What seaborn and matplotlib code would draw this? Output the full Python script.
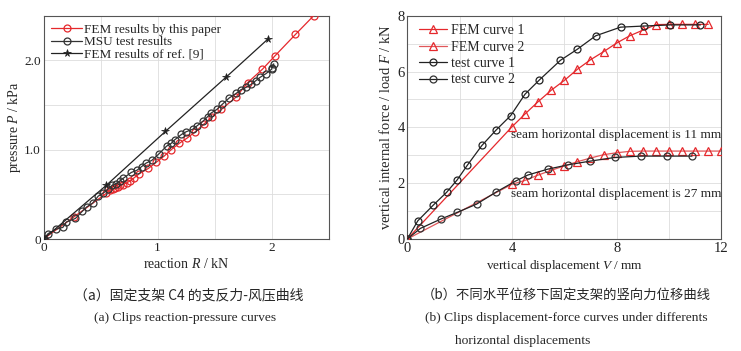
import numpy as np
import pandas as pd
import seaborn as sns
import matplotlib.pyplot as plt
from matplotlib.ticker import MultipleLocator, FuncFormatter

# (a) reaction R / kN vs pressure P / kPa
fem_r = [0, 0.27, 0.55, 0.58, 0.61, 0.63, 0.65, 0.67, 0.70, 0.73, 0.76, 0.79, 0.84, 0.92, 0.99,
         1.06, 1.12, 1.19, 1.26, 1.33, 1.41, 1.48, 1.56, 1.69, 1.79, 1.92, 2.03, 2.21, 2.37]
fem_p = [0, 0.25, 0.51, 0.55, 0.56, 0.57, 0.58, 0.60, 0.61, 0.63, 0.65, 0.68, 0.73, 0.79, 0.86,
         0.93, 1.00, 1.07, 1.13, 1.20, 1.29, 1.37, 1.45, 1.59, 1.75, 1.90, 2.05, 2.29, 2.50]
msu_r = [0, 0.04, 0.11, 0.17, 0.20, 0.28, 0.34, 0.38, 0.43, 0.48, 0.52, 0.57, 0.60, 0.64, 0.67,
         0.70, 0.77, 0.82, 0.86, 0.90, 0.95, 1.01, 1.08, 1.12, 1.15, 1.21, 1.25, 1.31, 1.35, 1.40,
         1.44, 1.47, 1.52, 1.57, 1.63, 1.69, 1.73, 1.78, 1.82, 1.86, 1.90, 1.95, 2.00, 2.02, 2.00]
msu_p = [0, 0.06, 0.11, 0.13, 0.19, 0.23, 0.31, 0.36, 0.40, 0.48, 0.51, 0.56, 0.60, 0.62, 0.65,
         0.68, 0.745, 0.77, 0.81, 0.85, 0.88, 0.95, 1.04, 1.07, 1.11, 1.17, 1.20, 1.23, 1.27, 1.32,
         1.37, 1.41, 1.45, 1.51, 1.58, 1.63, 1.67, 1.70, 1.73, 1.77, 1.81, 1.85, 1.90, 1.96, 1.92]
ref_r = [0, 0.55, 1.07, 1.60, 1.97]
ref_p = [0, 0.60, 1.205, 1.81, 2.24]

# (b) vertical displacement V / mm vs force F / kN
fem1_v = [0, 4.0, 4.5, 5.0, 5.5, 6.0, 6.5, 7.0, 7.5, 8.0, 8.5, 9.0, 9.5, 10.0, 10.5, 11.0, 11.5]
fem1_f = [0, 4.02, 4.48, 4.92, 5.33, 5.68, 6.08, 6.42, 6.71, 7.02, 7.28, 7.48, 7.68, 7.69, 7.69, 7.69, 7.69]
fem2_v = [0, 4.0, 4.5, 5.0, 5.5, 6.0, 6.5, 7.0, 7.5, 8.0, 8.5, 9.0, 9.5, 10.0, 10.5, 11.0, 11.5, 12.0]
fem2_f = [0, 1.96, 2.10, 2.29, 2.46, 2.62, 2.77, 2.90, 3.02, 3.09, 3.14, 3.15, 3.15, 3.15, 3.15, 3.15, 3.15, 3.15]
test1_v = [0, 0.4, 1.0, 1.5, 1.9, 2.3, 2.85, 3.4, 3.95, 4.5, 5.05, 5.85, 6.5, 7.2, 8.15, 9.05, 10.05, 11.2]
test1_f = [0, 0.65, 1.22, 1.67, 2.11, 2.65, 3.35, 3.91, 4.42, 5.19, 5.70, 6.40, 6.80, 7.28, 7.59, 7.63, 7.67, 7.67]
test2_v = [0, 0.5, 1.27, 1.9, 2.65, 3.39, 4.15, 4.6, 5.36, 6.16, 6.99, 7.92, 8.92, 9.92, 10.88]
test2_f = [0, 0.38, 0.71, 0.95, 1.25, 1.68, 2.08, 2.29, 2.50, 2.66, 2.79, 2.92, 2.97, 2.97, 2.97]

sns.set_theme(style='white')
plt.rcParams['font.family'] = ['Liberation Serif', 'Noto Sans CJK SC', 'DejaVu Sans']
plt.rcParams['mathtext.fontset'] = 'custom'
plt.rcParams['mathtext.rm'] = 'Liberation Serif'
plt.rcParams['mathtext.it'] = 'Liberation Serif:italic'

red = '#e5282c'
red2 = '#e0575a'
blk = '#222222'

fig = plt.figure(figsize=(7.41, 3.51), dpi=100)
ax1 = fig.add_axes([43.5/741, 112/351, 285/741, 223.3/351])
ax2 = fig.add_axes([407.3/741, 112/351, 314/741, 223.3/351])


def line(ax, x, y, **kw):
    df = pd.DataFrame({'x': x, 'y': y})
    sns.lineplot(data=df, x='x', y='y', sort=False, estimator=None, ax=ax, **kw)


line(ax1, fem_r, fem_p, color=red, lw=0.9, marker='o', markersize=5,
     markerfacecolor='none', markeredgecolor=red, markeredgewidth=0.9,
     label='FEM results by this paper', zorder=3)
line(ax1, msu_r, msu_p, color='#333333', lw=0.9, marker='o', markersize=5,
     markerfacecolor='none', markeredgecolor='#333333', markeredgewidth=0.9,
     label='MSU test results', zorder=4)
line(ax1, ref_r, ref_p, color=blk, lw=0.9, marker='*', markersize=5.5,
     markerfacecolor=blk, markeredgecolor=blk, markeredgewidth=0.5,
     label='FEM results of ref. [9]', zorder=5)

line(ax2, fem1_v, fem1_f, color=red, lw=0.9, marker='^', markersize=5.5,
     markerfacecolor='none', markeredgecolor=red, markeredgewidth=0.9,
     label='FEM curve 1', zorder=3)
line(ax2, fem2_v, fem2_f, color=red2, lw=0.9, marker='^', markersize=5.5,
     markerfacecolor='none', markeredgecolor=red, markeredgewidth=0.9,
     label='FEM curve 2', zorder=3)
line(ax2, test1_v, test1_f, color=blk, lw=0.9, marker='o', markersize=5,
     markerfacecolor='none', markeredgecolor=blk, markeredgewidth=0.9,
     label='test curve 1', zorder=4)
line(ax2, test2_v, test2_f, color=blk, lw=0.9, marker='o', markersize=5,
     markerfacecolor='none', markeredgecolor='#333333', markeredgewidth=0.9,
     label='test curve 2', zorder=4)

ax1.set_xlim(0, 2.5)
ax1.set_ylim(0, 2.5)
ax1.xaxis.set_major_locator(MultipleLocator(0.5))
ax1.yaxis.set_major_locator(MultipleLocator(0.5))
ax1.xaxis.set_major_formatter(FuncFormatter(lambda v, p: f'{v:.0f}' if abs(v - round(v)) < 1e-6 else ''))
ax1.yaxis.set_major_formatter(FuncFormatter(
    lambda v, p: ('0' if v == 0 else f'{v:.1f}') if abs(v - round(v)) < 1e-6 else ''))
ax1.set_xlabel('reaction $\\it{R}$ / kN', fontsize=10, labelpad=2)
ax1.set_ylabel('pressure $\\it{P}$ / kPa', fontsize=10, labelpad=1)

ax2.set_xlim(0, 12)
ax2.set_ylim(0, 8)
ax2.xaxis.set_major_locator(MultipleLocator(2))
ax2.yaxis.set_major_locator(MultipleLocator(1))
ax2.xaxis.set_major_formatter(FuncFormatter(lambda v, p: f'{v:.0f}' if int(round(v)) % 4 == 0 else ''))
ax2.yaxis.set_major_formatter(FuncFormatter(lambda v, p: f'{v:.0f}' if int(round(v)) % 2 == 0 else ''))
ax2.set_xlabel('vertical displacement $\\it{V}$ / mm', fontsize=9.5, labelpad=2)
ax2.set_ylabel('vertical internal force / load $\\it{F}$ / kN', fontsize=10.5, labelpad=3)

ax2.text(3.95, 3.73, 'seam horizontal displacement is 11 mm', fontsize=9.5, va='center')
ax2.text(3.95, 1.61, 'seam horizontal displacement is 27 mm', fontsize=9.5, va='center')

for ax, fs in [(ax1, 9.5), (ax2, 10.5)]:
    ax.grid(True, color='#dddddd', lw=0.6)
    ax.set_axisbelow(True)
    for s in ax.spines.values():
        s.set_color('#555555')
        s.set_linewidth(0.8)
    ax.tick_params(direction='in', length=3, width=0.6, color='#555555',
                   labelsize=fs, labelcolor='#222222', pad=2)

ax1.legend(loc='upper left', frameon=False, fontsize=9.5, handlelength=2.3,
           handletextpad=0.2, labelspacing=0.02, borderaxespad=0.2,
           bbox_to_anchor=(0.0, 1.0))
ax2.legend(loc='upper left', frameon=False, fontsize=10, handlelength=2.0,
           handletextpad=0.3, labelspacing=0.25, borderaxespad=0.2,
           bbox_to_anchor=(0.01, 1.0))

cjk = ['Noto Sans CJK SC', 'Liberation Serif']
fig.text(189/741, 1 - 295/351, '（a）固定支架 C4 的支反力-风压曲线', family=cjk,
         fontsize=10, ha='center', va='center')
fig.text(185/741, 1 - 318/351, '(a) Clips reaction-pressure curves',
         fontsize=9.7, ha='center', va='center')
fig.text(566/741, 1 - 295/351, '（b）不同水平位移下固定支架的竖向力位移曲线', family=cjk,
         fontsize=9.6, ha='center', va='center')
fig.text(566/741, 1 - 318/351, '(b) Clips displacement-force curves under differents',
         fontsize=9.7, ha='center', va='center')
fig.text(455/741, 1 - 341/351, 'horizontal displacements',
         fontsize=9.7, ha='left', va='center')

fig.savefig('out.png', dpi=100)
